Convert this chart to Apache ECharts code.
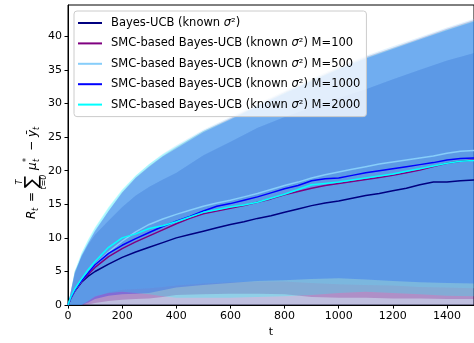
<!DOCTYPE html>
<html>
<head>
<meta charset="utf-8">
<script src="https://cdn.jsdelivr.net/npm/echarts@6/dist/echarts.min.js"></script>
<style>
  html, body { margin: 0; padding: 0; background: #fff; }
  #chart { width: 474px; height: 343px; }
</style>
</head>
<body>
<div id="chart"></div>
<script>
// time steps of the mean curves
const T = [0, 10, 25, 50, 75, 100, 150, 200, 250, 300, 350, 400, 450, 500, 550, 600, 650, 700,
  750, 800, 850, 900, 950, 1000, 1050, 1100, 1150, 1200, 1250, 1300, 1350, 1400, 1450, 1500];

// mean regret
const bayesUcb = [0, 1.0, 2.1, 3.4, 4.3, 5.0, 6.1, 7.1, 7.9, 8.6, 9.3, 10.0, 10.5, 11.0, 11.5, 12.0, 12.4, 12.9,
  13.3, 13.8, 14.3, 14.8, 15.2, 15.5, 15.9, 16.3, 16.6, 17.0, 17.4, 17.9, 18.3, 18.3, 18.5, 18.6];
const smc100 = [0, 1.0, 2.1, 3.5, 4.6, 5.6, 7.2, 8.4, 9.4, 10.3, 11.2, 12.1, 12.9, 13.6, 14.0, 14.4, 14.8, 15.3,
  15.8, 16.4, 16.9, 17.4, 17.8, 18.1, 18.4, 18.7, 19.0, 19.3, 19.7, 20.1, 20.6, 21.1, 21.4, 21.6];
const smc500 = [0, 1.1, 2.2, 3.6, 4.9, 6.0, 7.9, 9.5, 10.9, 12.0, 12.8, 13.5, 14.1, 14.7, 15.2, 15.6, 16.1, 16.6,
  17.2, 17.8, 18.3, 18.9, 19.4, 19.8, 20.2, 20.6, 21.0, 21.3, 21.6, 21.9, 22.2, 22.6, 22.9, 23.0];
const smc1000 = [0, 1.1, 2.2, 3.6, 4.8, 6.0, 7.7, 8.9, 9.9, 10.8, 11.7, 12.5, 13.2, 14.0, 14.7, 15.1, 15.6, 16.1,
  16.7, 17.3, 17.8, 18.5, 18.8, 18.9, 19.3, 19.7, 20.0, 20.3, 20.6, 20.9, 21.2, 21.6, 21.8, 21.9];
const smc2000 = [0, 1.2, 2.4, 3.9, 5.3, 6.5, 8.6, 10.0, 10.6, 11.4, 11.8, 12.4, 13.1, 13.8, 14.2, 14.6, 14.9, 15.3,
  15.9, 16.5, 17.2, 17.9, 18.1, 18.3, 18.6, 18.9, 19.2, 19.5, 19.9, 20.3, 20.7, 21.1, 21.4, 21.5];

// time steps of the shaded bands
const TB = [0, 25, 50, 75, 100, 150, 200, 250, 300, 350, 400, 500, 600, 700, 800, 900, 1000, 1100, 1200, 1300, 1400, 1500];

// band edges (upper / lower)
const bayesUcbHi = [0, 5.0, 7.2, 9.0, 10.5, 12.6, 14.6, 16.3, 17.6, 18.7, 19.7, 22.3, 24.3, 26.4, 28.0, 29.4, 30.8, 32.1, 33.6, 35.0, 36.4, 37.5];
const bayesUcbLo = [0, 0, 0, 0, 0, 0, 0, 0, 0, 0, 0, 0, 0, 0, 0, 0, 0, 0, 0, 0, 0, 0];
const smc100Hi = [0, 4.7, 7.3, 9.2, 11.0, 14.0, 16.8, 19.0, 20.7, 22.2, 23.5, 25.9, 27.8, 29.8, 31.7, 33.5, 35.3, 36.9, 38.3, 39.7, 41.1, 42.4];
const smc100Lo = [0, 0, 0, 0.1, 0.3, 0.6, 0.8, 0.9, 1.0, 1.2, 1.5, 1.6, 1.7, 1.7, 1.6, 1.2, 1.1, 1.1, 1.0, 1.0, 0.9, 0.9];
const smc500Hi = [0, 4.9, 7.6, 9.6, 11.4, 14.4, 17.0, 19.2, 21.0, 22.5, 23.8, 26.1, 28.0, 30.0, 31.9, 33.7, 35.5, 37.1, 38.5, 39.9, 41.3, 42.6];
const smc500Lo = [0, 0, 0, 0.6, 1.2, 1.9, 2.3, 2.4, 2.5, 2.7, 2.9, 3.2, 3.4, 3.5, 3.5, 3.3, 3.1, 3.0, 2.9, 2.7, 2.6, 2.5];
const smc1000Hi = [0, 4.7, 7.4, 9.3, 11.1, 14.0, 16.7, 18.9, 20.6, 22.1, 23.3, 25.7, 27.6, 29.6, 31.5, 33.3, 35.1, 36.7, 38.1, 39.5, 40.9, 42.2];
const smc1000Lo = [0, 0, 0, 0.4, 0.9, 1.4, 1.6, 1.7, 1.8, 2.2, 2.6, 3.0, 3.3, 3.6, 3.7, 3.9, 4.0, 3.8, 3.6, 3.4, 3.3, 3.2];
const smc2000Hi = [0, 5.1, 7.8, 9.8, 11.6, 14.6, 17.2, 19.3, 21.0, 22.4, 23.6, 25.9, 27.7, 29.7, 31.6, 33.4, 35.2, 36.8, 38.2, 39.6, 41.0, 42.3];
const smc2000Lo = [0, 0, 0, 0.6, 1.3, 1.8, 2.0, 1.8, 1.6, 1.3, 1.1, 1.1, 1.1, 1.2, 1.3, 1.5, 1.8, 2.0, 1.8, 1.6, 1.4, 1.3];

const names = [
  'Bayes-UCB (known σ²)',
  'SMC-based Bayes-UCB (known σ²) M=100',
  'SMC-based Bayes-UCB (known σ²) M=500',
  'SMC-based Bayes-UCB (known σ²) M=1000',
  'SMC-based Bayes-UCB (known σ²) M=2000'
];
const colors = ['#000080', '#800080', '#87cefa', '#0000ff', '#00ffff'];
const means = [bayesUcb, smc100, smc500, smc1000, smc2000];
const highs = [bayesUcbHi, smc100Hi, smc500Hi, smc1000Hi, smc2000Hi];
const lows = [bayesUcbLo, smc100Lo, smc500Lo, smc1000Lo, smc2000Lo];

const xTicks = [0, 200, 400, 600, 800, 1000, 1200, 1400];
const yTicks = [0, 5, 10, 15, 20, 25, 30, 35, 40];

const FONT = 'DejaVu Sans';

const chart = echarts.init(document.getElementById('chart'), null, { renderer: 'canvas' });

// shaded band between lower and upper edge
function band(i) {
  return {
    type: 'custom',
    name: 'band' + i,
    silent: true,
    z: 1,
    data: [[0, 0]],
    renderItem: function (params, api) {
      const pts = [];
      for (let k = 0; k < TB.length; k++) pts.push(api.coord([TB[k], highs[i][k]]));
      for (let k = TB.length - 1; k >= 0; k--) pts.push(api.coord([TB[k], lows[i][k]]));
      return {
        type: 'polygon',
        shape: { points: pts },
        style: { fill: colors[i], opacity: 0.25 }
      };
    }
  };
}

const series = [];
for (let i = 0; i < 5; i++) series.push(band(i));
for (let i = 0; i < 5; i++) {
  series.push({
    type: 'line',
    name: names[i],
    data: T.map((t, k) => [t, means[i][k]]),
    showSymbol: false,
    z: 3,
    lineStyle: { width: 1.5, color: colors[i] },
    itemStyle: { color: colors[i] }
  });
}

// y axis label: R_t = sum_{t=0}^{T} mu_t^* - ybar_t
function txt(s, x, y, size, italic, align) {
  return {
    type: 'text', x: x, y: y,
    style: {
      text: s,
      font: (italic ? 'italic ' : '') + size + 'px "' + FONT + '"',
      fill: '#000',
      textAlign: align || 'left',
      textVerticalAlign: 'middle'
    }
  };
}

const option = {
  animation: false,
  grid: {
    left: 68, top: 5, right: -5, bottom: 33,
    show: true, borderColor: '#000', borderWidth: 1, backgroundColor: 'transparent'
  },
  legend: {
    orient: 'vertical',
    left: 74,
    top: 11,
    padding: [5, 6, 5, 4],
    backgroundColor: 'rgba(255,255,255,0.8)',
    borderColor: '#cccccc',
    borderWidth: 1,
    borderRadius: 3,
    itemWidth: 24,
    itemHeight: 2,
    itemGap: 6.4,
    icon: 'rect',
    data: names,
    formatter: function (name) {
      return name.replace('σ', '{it|σ}');
    },
    textStyle: {
      fontFamily: FONT, fontSize: 11.5, color: '#000', lineHeight: 14,
      padding: [0, 0, 0, 4],
      rich: { it: { fontFamily: FONT, fontSize: 11.5, fontStyle: 'italic', color: '#000', lineHeight: 14 } }
    }
  },
  xAxis: {
    type: 'value',
    min: 0,
    max: 1500,
    name: 't',
    nameLocation: 'middle',
    nameGap: 21,
    nameTextStyle: { fontFamily: FONT, fontSize: 11, color: '#000' },
    axisLine: { show: true, onZero: false, lineStyle: { color: '#000', width: 1 } },
    axisTick: { show: true, length: 3.5, customValues: xTicks, lineStyle: { color: '#000' } },
    axisLabel: {
      customValues: xTicks, fontFamily: FONT, fontSize: 11, color: '#000', margin: 6,
      formatter: function (v) { return String(v); }
    },
    splitLine: { show: false }
  },
  yAxis: {
    type: 'value',
    min: 0,
    max: 44.65,
    axisLine: { show: true, lineStyle: { color: '#000', width: 1 } },
    axisTick: { show: true, length: 3.5, customValues: yTicks, lineStyle: { color: '#000' } },
    axisLabel: { customValues: yTicks, fontFamily: FONT, fontSize: 11, color: '#000', margin: 6 },
    splitLine: { show: false }
  },
  graphic: [{
    type: 'group',
    x: 32,
    y: 163,
    rotation: Math.PI / 2,
    children: [
      txt('R', -56, 0, 12, true),
      txt('t', -48, 4, 8, true),
      txt('=', -39, 0, 12, false),
      txt('∑', -19, 0, 18, false, 'center'),
      txt('T', -19, -12, 8, true, 'center'),
      txt('t=0', -19, 12, 8, true, 'center'),
      txt('μ', -7, 1, 12, true),
      txt('*', 1, -5, 8, false),
      txt('t', 1, 5, 8, true),
      txt('−', 12, 0, 12, false),
      txt('ȳ', 26, 1, 12, true),
      txt('t', 33, 5, 8, true)
    ]
  }],
  series: series
};

chart.setOption(option);
</script>
</body>
</html>
